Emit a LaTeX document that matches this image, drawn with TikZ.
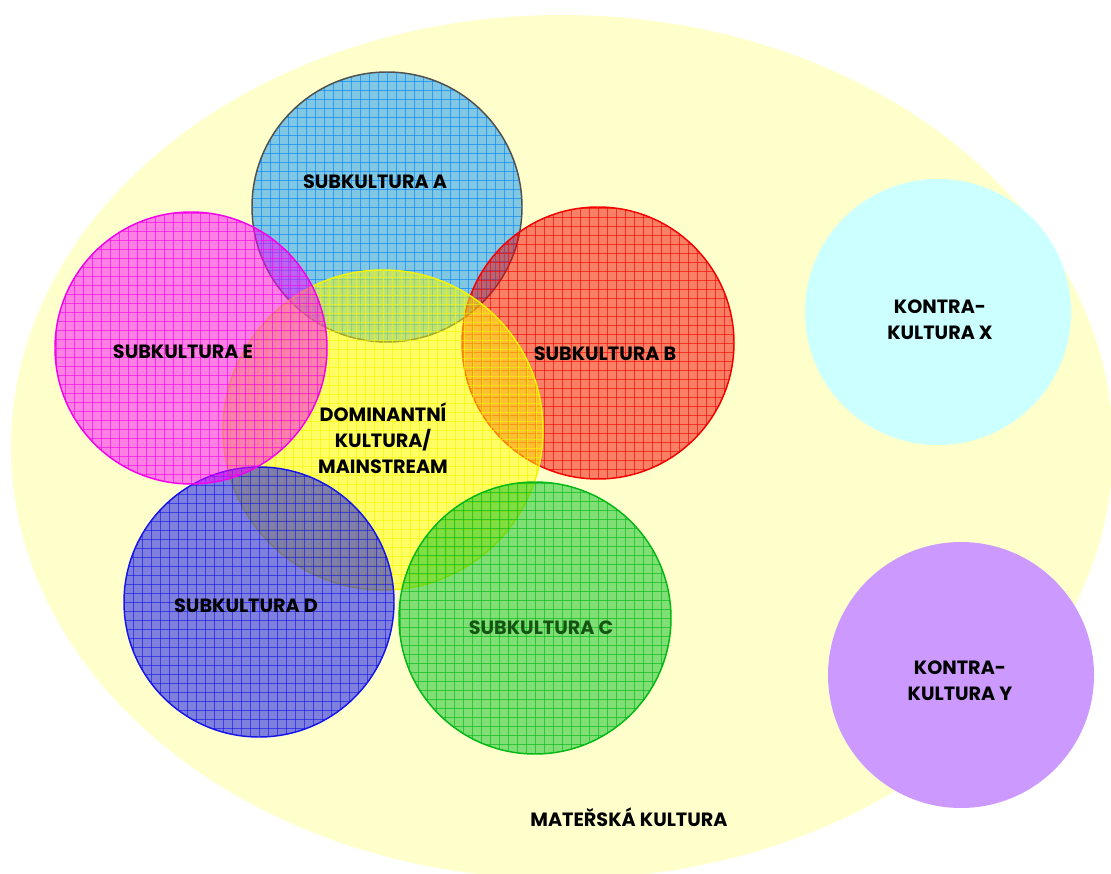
\documentclass[tikz,border=0pt]{standalone}
\usepackage{fontspec}
\setmainfont{Poppins}
\definecolor{materska}{RGB}{255,255,204}
\definecolor{kontraX}{RGB}{204,255,255}
\definecolor{kontraY}{RGB}{204,153,255}
\definecolor{subAfill}{RGB}{0,145,250}
\definecolor{subAline}{RGB}{0,130,250}
\definecolor{subAedge}{RGB}{80,80,80}
\definecolor{subBfill}{RGB}{245,0,0}
\definecolor{subBline}{RGB}{245,0,0}
\definecolor{subCfill}{RGB}{0,190,30}
\definecolor{subCline}{RGB}{0,185,20}
\definecolor{subDfill}{RGB}{0,0,240}
\definecolor{subDline}{RGB}{20,20,235}
\definecolor{subEfill}{RGB}{255,0,255}
\definecolor{subEline}{RGB}{245,0,235}
\definecolor{domfill}{RGB}{255,255,0}
\definecolor{domline}{RGB}{245,245,0}
\definecolor{textC}{RGB}{20,85,20}
% kruh s mrizkou: x, y, polomer, vypln, mrizka, okraj
\newcommand{\mrizkruh}[6]{%
  \fill[#4, fill opacity=0.5] (#1,#2) circle[radius=#3];
  \begin{scope}
    \clip (#1,#2) circle[radius=#3];
    \foreach \g in {-171,-162,...,171}{
      \draw[#5, line width=0.45pt, opacity=0.6] ({#1+\g},{#2-#3}) -- ({#1+\g},{#2+#3});
      \draw[#5, line width=0.45pt, opacity=0.6] ({#1-#3},{#2+\g}) -- ({#1+#3},{#2+\g});
    }
  \end{scope}
  \draw[#6, line width=1.1pt] (#1,#2) circle[radius=#3];
}
\begin{document}
\begin{tikzpicture}[x=0.75pt,y=-0.75pt,
    popis/.style={font=\bfseries\fontsize{14.4}{19.5}\selectfont, align=center, text=black, inner sep=0pt}]
  \useasboundingbox (0,0) rectangle (1111,874);
  \clip (0,0) rectangle (1111,874);
  % materska kultura
  \fill[materska] (562,447) ellipse [x radius=551, y radius=432];
  % kontrakultury
  \fill[kontraX] (938,312) circle[radius=133];
  \fill[kontraY] (961,675) circle[radius=133];
  % subkultury pod dominantni
  \mrizkruh{387}{207}{135}{subAfill}{subAline}{subAedge}
  \mrizkruh{598}{343}{136}{subBfill}{subBline}{subBline}
  % dominantni kultura
  \mrizkruh{383}{430}{160}{domfill}{domline}{domline}
  % subkultury nad dominantni
  \mrizkruh{535}{618}{136}{subCfill}{subCline}{subCline}
  \mrizkruh{259}{602}{135}{subDfill}{subDline}{subDline}
  \mrizkruh{191}{348}{136}{subEfill}{subEline}{subEline}
  % popisky
  \node[popis] (subA) at (375,182) {SUBKULTURA A};
  \node[popis] (subB) at (605,354) {SUBKULTURA B};
  \node[popis, text=textC] (subC) at (541,628) {SUBKULTURA C};
  \node[popis] (subD) at (246,606) {SUBKULTURA D};
  \node[popis] (subE) at (183,352) {SUBKULTURA E};
  \node[popis] (dom) at (383,438) {DOMINANTNÍ\\KULTURA/\\MAINSTREAM};
  \node[popis] (konX) at (940,320) {KONTRA-\\KULTURA X};
  \node[popis] (konY) at (960,681) {KONTRA-\\KULTURA Y};
  \node[popis] (mat) at (629,817) {MATEŘSKÁ KULTURA};
\end{tikzpicture}
\end{document}
